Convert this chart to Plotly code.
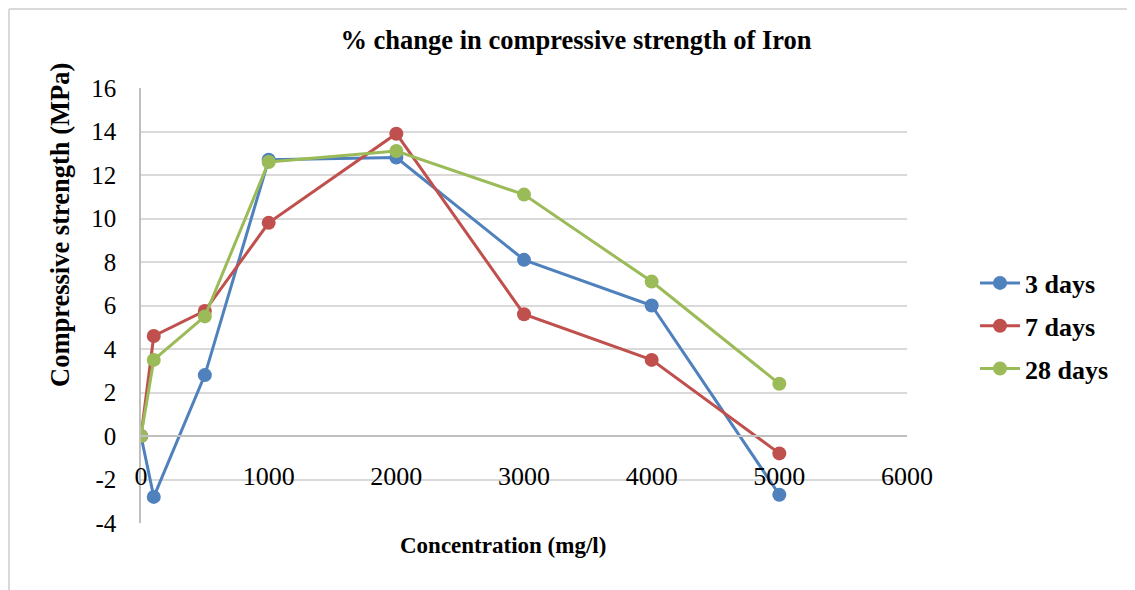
import plotly.graph_objects as go

concentration = [0, 100, 500, 1000, 2000, 3000, 4000, 5000]
days3 = [0, -2.8, 2.8, 12.7, 12.8, 8.1, 6.0, -2.7]
days7 = [0, 4.6, 5.75, 9.8, 13.9, 5.6, 3.5, -0.8]
days28 = [0, 3.5, 5.5, 12.6, 13.1, 11.1, 7.1, 2.4]
series_names = ["3 days", "7 days", "28 days"]
colors = ["#4F81BD", "#C0504D", "#9BBB59"]
x_ticks = [0, 1000, 2000, 3000, 4000, 5000, 6000]
y_ticks = [-4, -2, 0, 2, 4, 6, 8, 10, 12, 14, 16]

FONT = "Liberation Serif"
OFF = 8  # page body margin
FW, FH = 1135 - OFF, 590 - OFF

fig = go.Figure()
for i, (name, vals) in enumerate(zip(series_names, [days3, days7, days28])):
    fig.add_trace(go.Scatter(
        x=concentration, y=vals, name=name, mode="lines+markers",
        legendgroup=name,
        line=dict(color=colors[i], width=3),
        marker=dict(color=colors[i], size=14),
    ))

# target pixel positions in the screenshot
PL, PR, PT, PB = 141, 907, 88, 523
L, T = PL - OFF, PT - OFF
R = FW - (PR - OFF)
B = FH - (PB - OFF)
W, H = PR - PL, PB - PT

def px_x(p):
    return (p - PL) / W

def px_y(p):
    return (PB - p) / H

fig.update_layout(
    width=FW, height=FH,
    margin=dict(l=L, r=R, t=T, b=B),
    paper_bgcolor="white", plot_bgcolor="white",
    font=dict(family=FONT, color="black", size=25),
    title=dict(text="<b>% change in compressive strength of Iron</b>",
               x=(576 - OFF) / FW, xanchor="center", y=1 - (40 - OFF) / FH, yanchor="middle",
               font=dict(size=26.5, family=FONT, color="black")),
    xaxis=dict(range=[0, 6000], tickvals=x_ticks, ticktext=[str(v) for v in x_ticks],
               showgrid=False,
               anchor="free", position=0.2, showline=True, linecolor="#BFBFBF",
               linewidth=1.5, ticks="", ticklabelstandoff=17, zeroline=False,
               tickfont=dict(size=26, family=FONT)),
    yaxis=dict(range=[-4, 16], tickvals=y_ticks, ticktext=[str(v) for v in y_ticks],
               showgrid=True,
               gridcolor="#D9D9D9", gridwidth=1.5, zeroline=False,
               showline=True, linecolor="#BFBFBF", linewidth=1.5,
               ticks="", ticklabelstandoff=18,
               tickfont=dict(size=25, family=FONT)),
    legend=dict(x=px_x(975), xanchor="left", y=px_y(326), yanchor="middle",
                font=dict(size=26, family=FONT, color="black", weight="bold"),
                tracegroupgap=6, traceorder="grouped", bgcolor="rgba(0,0,0,0)",
                itemwidth=40),
    showlegend=True,
)

fig.add_annotation(text="<b>Compressive strength (MPa)</b>", xref="paper", yref="paper",
                   x=px_x(60), y=px_y(225), textangle=-90, showarrow=False,
                   font=dict(size=26.5, family=FONT, color="black"),
                   xanchor="center", yanchor="middle")
fig.add_annotation(text="<b>Concentration (mg/l)</b>", xref="paper", yref="paper",
                   x=px_x(503), y=px_y(545), showarrow=False,
                   font=dict(size=23, family=FONT, color="black"),
                   xanchor="center", yanchor="middle")

# chart-area border (top and left edges visible)
fig.add_shape(type="line", xref="paper", yref="paper",
              x0=px_x(9), x1=px_x(1140), y0=px_y(9), y1=px_y(9),
              line=dict(color="#D9D9D9", width=2))
fig.add_shape(type="line", xref="paper", yref="paper",
              x0=px_x(9), x1=px_x(9), y0=px_y(9), y1=px_y(595),
              line=dict(color="#D9D9D9", width=2))

fig.write_html("out.html")
